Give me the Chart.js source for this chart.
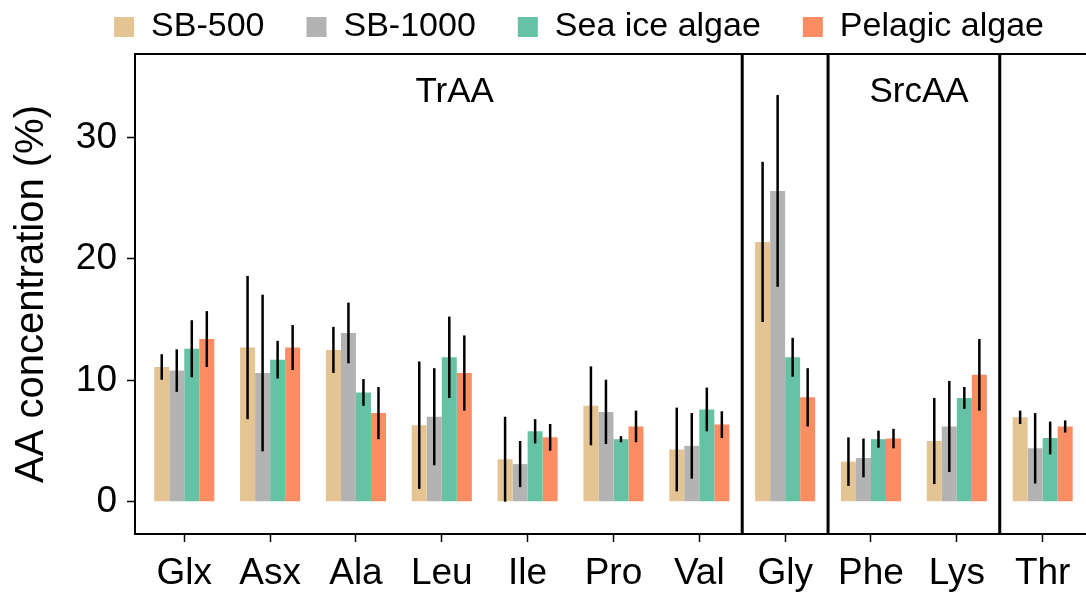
<!DOCTYPE html>
<html>
<head>
<meta charset="utf-8">
<script src="https://cdn.jsdelivr.net/npm/chart.js@4.4.1/dist/chart.umd.min.js"></script>
<style>
  html, body { margin: 0; padding: 0; background: #fff; overflow: hidden; }
  #wrap { width: 1086px; height: 596px; position: relative; }
</style>
</head>
<body>
<div id="wrap"><canvas id="myChart"></canvas></div>
<script>
// amino acids along the x axis
const aminoAcids = ['Glx', 'Asx', 'Ala', 'Leu', 'Ile', 'Pro', 'Val', 'Gly', 'Phe', 'Lys', 'Thr'];
const seriesNames = ['SB-500', 'SB-1000', 'Sea ice algae', 'Pelagic algae'];
const seriesColors = ['#E5C494', '#B3B3B3', '#66C2A5', '#FC8D62'];

// mean concentration (%)
const sb500 = [11.1, 12.7, 12.5, 6.3, 3.5, 7.9, 4.3, 21.4, 3.3, 5.0, 6.95];
const sb1000 = [10.8, 10.6, 13.9, 7.0, 3.1, 7.4, 4.6, 25.6, 3.6, 6.2, 4.4];
const seaIce = [12.6, 11.7, 9.0, 11.9, 5.8, 5.15, 7.6, 11.9, 5.15, 8.55, 5.25];
const pelagic = [13.4, 12.7, 7.3, 10.6, 5.3, 6.2, 6.35, 8.6, 5.2, 10.45, 6.2];

// standard deviations (error bars)
const sb500Sd = [1.05, 5.9, 1.9, 5.25, 3.5, 3.25, 3.45, 6.6, 2.0, 3.55, 0.55];
const sb1000Sd = [1.75, 6.45, 2.5, 4.0, 1.9, 2.65, 2.7, 7.9, 1.6, 3.75, 2.9];
const seaIceSd = [2.35, 1.55, 1.1, 3.35, 1.0, 0.25, 1.8, 1.6, 0.7, 0.9, 1.35];
const pelagicSd = [2.3, 1.85, 2.15, 3.1, 1.1, 1.3, 1.1, 2.4, 0.8, 2.95, 0.5];

const yTicks = [0, 10, 20, 30];
// panel separators (between groups) and panel titles
const panelBreaks = [7.5, 8.5, 10.5];
const panelTitles = [{ text: 'TrAA', x: 4.15 }, { text: 'SrcAA', x: 9.56 }];

const means = [sb500, sb1000, seaIce, pelagic];
const sds = [sb500Sd, sb1000Sd, seaIceSd, pelagicSd];
const FONT = "Arial, 'Liberation Sans', Helvetica, sans-serif";

const facetPlugin = {
  id: 'facets',
  afterDatasetsDraw(chart) {
    const ctx = chart.ctx;
    const xs = chart.scales.x, ys = chart.scales.y;
    const area = chart.chartArea;
    ctx.save();
    // error bars
    ctx.strokeStyle = '#000';
    ctx.lineWidth = 2.5;
    chart.data.datasets.forEach((ds, i) => {
      const meta = chart.getDatasetMeta(i);
      meta.data.forEach((bar, j) => {
        const lo = Math.max(0, means[i][j] - sds[i][j]);
        const hi = means[i][j] + sds[i][j];
        ctx.beginPath();
        ctx.moveTo(bar.x, ys.getPixelForValue(lo));
        ctx.lineTo(bar.x, ys.getPixelForValue(hi));
        ctx.stroke();
      });
    });
    // panel separators
    ctx.lineWidth = 3;
    panelBreaks.forEach(b => {
      const px = xs.getPixelForValue(b);
      ctx.beginPath();
      ctx.moveTo(px, area.top);
      ctx.lineTo(px, area.bottom);
      ctx.stroke();
    });
    // top border
    ctx.lineWidth = 2;
    ctx.beginPath();
    ctx.moveTo(area.left - 1, area.top);
    ctx.lineTo(area.right, area.top);
    ctx.stroke();
    // panel titles
    ctx.fillStyle = '#000';
    ctx.font = '35px ' + FONT;
    ctx.textAlign = 'center';
    ctx.textBaseline = 'middle';
    panelTitles.forEach(p => {
      ctx.fillText(p.text, xs.getPixelForValue(p.x), ys.getPixelForValue(33.7));
    });
    ctx.restore();
  }
};

new Chart(document.getElementById('myChart'), {
  type: 'bar',
  data: {
    datasets: seriesNames.map((name, i) => ({
      label: name,
      data: means[i].map((v, j) => ({ x: j + 1, y: v })),
      backgroundColor: seriesColors[i],
      borderWidth: 0,
      categoryPercentage: 0.7,
      barPercentage: 1.0
    }))
  },
  options: {
    responsive: true,
    maintainAspectRatio: false,
    animation: false,
    layout: { padding: { top: -32, left: 0, right: 0, bottom: 0 } },
    plugins: {
      tooltip: { enabled: false },
      legend: {
        position: 'top',
        align: 'end',
        labels: {
          boxWidth: 20,
          boxHeight: 20,
          padding: 42,
          color: '#000',
          font: { family: FONT, size: 34 }
        }
      }
    },
    scales: {
      x: {
        type: 'linear',
        min: 0.426,
        max: 11.505,
        offset: false,
        grid: { display: true, drawOnChartArea: false, drawTicks: true, tickLength: 8, tickColor: '#000', tickWidth: 1.5, offset: false },
        border: { display: true, color: '#000', width: 2 },
        ticks: {
          autoSkip: false,
          maxRotation: 0,
          padding: 10,
          color: '#000',
          font: { family: FONT, size: 37 },
          callback: (v) => aminoAcids[v - 1]
        },
        afterBuildTicks: (s) => { s.ticks = aminoAcids.map((a, i) => ({ value: i + 1 })); },
        afterFit: (s) => { s.height = 62; }
      },
      y: {
        min: -2.66,
        max: 36.88,
        grid: { display: true, drawOnChartArea: false, drawTicks: true, tickLength: 8, tickColor: '#000', tickWidth: 1.5 },
        border: { display: true, color: '#000', width: 2 },
        ticks: {
          padding: 10,
          color: '#000',
          font: { family: FONT, size: 37 }
        },
        afterBuildTicks: (s) => { s.ticks = yTicks.map(v => ({ value: v })); },
        title: {
          display: true,
          text: 'AA concentration (%)',
          color: '#000',
          font: { family: FONT, size: 40 },
          padding: { top: 8, bottom: 0 }
        },
        afterFit: (s) => { s.width = 135; }
      }
    }
  },
  plugins: [facetPlugin]
});
</script>
</body>
</html>
